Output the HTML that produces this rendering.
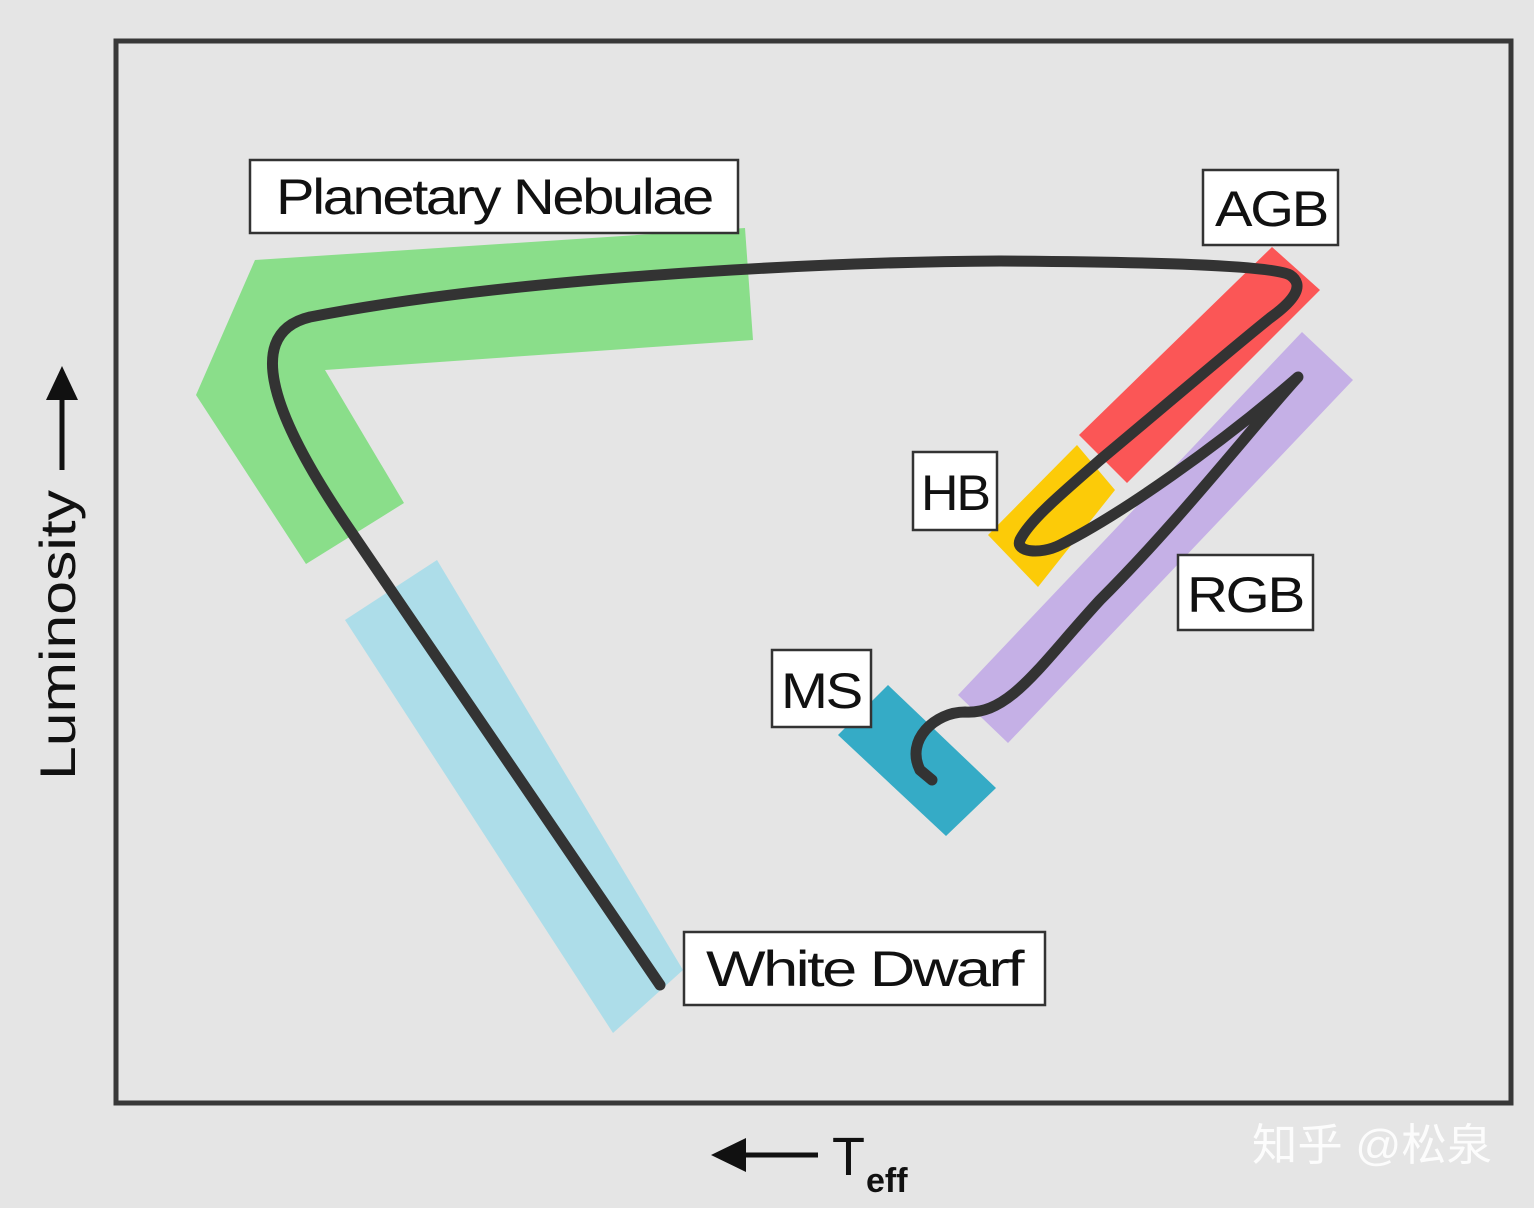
<!DOCTYPE html>
<html><head><style>
html,body{margin:0;padding:0;background:#e5e5e5;}
svg{display:block}
text{font-family:"Liberation Sans",sans-serif;fill:#111}
</style></head><body>
<svg width="1534" height="1208" viewBox="0 0 1534 1208" xmlns="http://www.w3.org/2000/svg">
<rect x="0" y="0" width="1534" height="1208" fill="#e5e5e5"/>
<rect x="116" y="41" width="1395" height="1062" fill="none" stroke="#383838" stroke-width="5"/>
<polygon points="255,260 745,228 753,340 325,370 404,503 306,564 196,395" fill="#8ade8a"/>
<polygon points="345,620 437,560 683,970 613,1033" fill="#addde9"/>
<polygon points="838,735 888,685 996,788 946,836" fill="#35abc6"/>
<polygon points="958,695 1302,332 1353,380 1008,743" fill="#c5b0e6"/>
<polygon points="1079,435 1272,247 1320,290 1127,483" fill="#fb5656"/>
<polygon points="988,535 1077,445 1115,490 1038,587" fill="#fccb08"/>
<path d="M660,985 L350,530 C285,435 235,335 310,317 C500,280 800,262 1000,261 C1150,262 1270,265 1290,275 C1305,285 1295,300 1270,318 C1230,350 1160,410 1100,460 C1060,495 1030,520 1020,540 C1015,552 1040,555 1060,545 C1120,515 1220,445 1298,377 C1250,430 1180,520 1100,600 C1040,665 1010,715 965,712 C935,712 905,740 920,770 L932,780" fill="none" stroke="#333" stroke-width="11" stroke-linecap="round" stroke-linejoin="round"/>
<g fill="#fff" stroke="#333" stroke-width="2.5">
<rect x="250" y="160" width="488" height="73"/>
<rect x="1203" y="170" width="135" height="75"/>
<rect x="913" y="452" width="84" height="78"/>
<rect x="1178" y="555" width="135" height="75"/>
<rect x="772" y="650" width="99" height="77"/>
<rect x="684" y="932" width="361" height="73"/>
</g>
<g font-size="50" text-anchor="middle" letter-spacing="-2">
<text x="494" y="214" textLength="436" lengthAdjust="spacingAndGlyphs">Planetary Nebulae</text>
<text x="1271" y="226" textLength="112" lengthAdjust="spacingAndGlyphs">AGB</text>
<text x="955" y="510" textLength="68" lengthAdjust="spacingAndGlyphs">HB</text>
<text x="1245" y="612" textLength="116" lengthAdjust="spacingAndGlyphs">RGB</text>
<text x="821" y="708" textLength="80" lengthAdjust="spacingAndGlyphs">MS</text>
<text x="864" y="986" textLength="316" lengthAdjust="spacingAndGlyphs">White Dwarf</text>
</g>
<text transform="translate(75,780) rotate(-90)" font-size="50" textLength="290" lengthAdjust="spacingAndGlyphs">Luminosity</text>
<line x1="62" y1="470" x2="62" y2="395" stroke="#111" stroke-width="5"/>
<polygon points="62,366 46,400 78,400" fill="#111"/>
<line x1="745" y1="1155" x2="818" y2="1155" stroke="#111" stroke-width="5"/>
<polygon points="711,1155 746,1138 746,1172" fill="#111"/>
<text x="832" y="1175" font-size="54">T</text>
<text x="866" y="1192" font-size="34" font-weight="bold">eff</text>
<text x="1252" y="1160" font-size="44" textLength="240" lengthAdjust="spacingAndGlyphs" style="fill:#fff;font-family:'Liberation Sans','Noto Sans CJK SC',sans-serif" opacity="0.9">知乎 @松泉</text>
</svg>
</body></html>
